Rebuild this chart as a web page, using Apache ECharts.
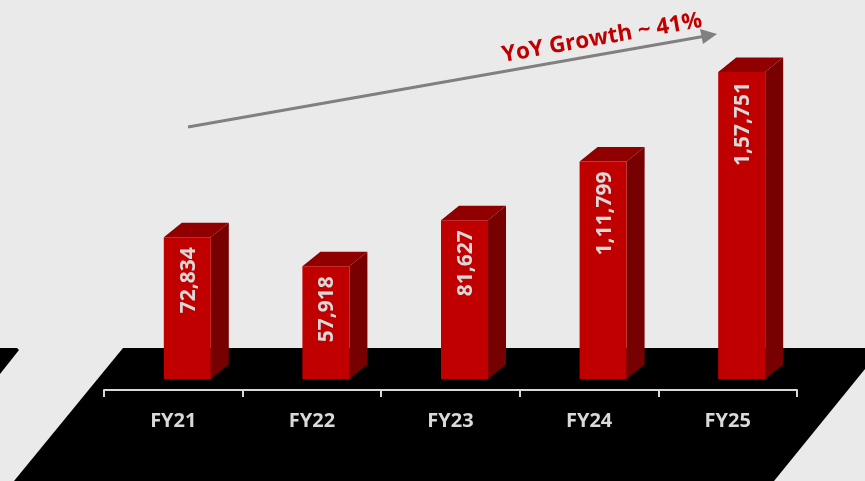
<!DOCTYPE html>
<html lang="en">

<head>
    <meta charset="UTF-8">
    <title>YoY Growth</title>
    <script src="https://cdn.jsdelivr.net/npm/echarts/dist/echarts.min.js"></script>
    <style>
        html, body {
            margin: 0;
            padding: 0;
            background-color: #eaeaea;
        }

        #chart {
            width: 865px;
            height: 481px;
        }
    </style>
</head>

<body>
    <div id="chart"></div>

    <script>
        const categories = ['FY21', 'FY22', 'FY23', 'FY24', 'FY25'];
        const values = [72834, 57918, 81627, 111799, 157751];
        const valueLabels = ['72,834', '57,918', '81,627', '1,11,799', '1,57,751'];

        const fontName = '"Open Sans", sans-serif';

        // one fake 3D column: side face, top face, front face, rotated label
        function renderColumn(params, api) {
            const i = api.value(0);
            const top = api.coord([i, api.value(1)]);
            const base = api.coord([i, 0]);
            const left = top[0] - 9.5;
            const right = left + 47;
            const dx = 18;
            const dy = 14.5;
            return {
                type: 'group',
                children: [
                    {
                        type: 'polygon',
                        shape: { points: [[right, top[1]], [right + dx, top[1] - dy], [right + dx, base[1] - dy], [right, base[1]]] },
                        style: { fill: '#770000' }
                    },
                    {
                        type: 'polygon',
                        shape: { points: [[left, top[1]], [left + dx, top[1] - dy], [right + dx, top[1] - dy], [right, top[1]]] },
                        style: { fill: '#900000' }
                    },
                    {
                        type: 'rect',
                        shape: { x: left, y: top[1], width: 47, height: base[1] - top[1] },
                        style: { fill: '#c00000' }
                    },
                    {
                        type: 'text',
                        x: left + 25,
                        y: top[1] + 10,
                        rotation: Math.PI / 2,
                        style: {
                            text: valueLabels[i],
                            fill: '#d9d9d9',
                            font: 'bold 21px ' + fontName,
                            align: 'right',
                            verticalAlign: 'middle'
                        }
                    }
                ]
            };
        }

        const chart = echarts.init(document.getElementById('chart'));
        chart.setOption({
            backgroundColor: '#eaeaea',
            animation: false,
            grid: { left: 104, right: 68, top: 72, bottom: 91 },
            xAxis: {
                type: 'category',
                data: categories,
                axisLine: { onZero: false, lineStyle: { color: '#d9d9d9', width: 2 } },
                axisTick: { show: true, length: 7, lineStyle: { color: '#d9d9d9', width: 2 } },
                axisLabel: { color: '#d9d9d9', fontFamily: fontName, fontWeight: 'bold', fontSize: 20, margin: 21 }
            },
            yAxis: {
                type: 'value',
                min: -5650,
                max: 157751,
                show: false,
                splitLine: { show: false }
            },
            graphic: [
                {
                    type: 'polygon',
                    z: -10,
                    shape: { points: [[123, 348], [865, 348], [865, 369], [774, 481], [14, 481]] },
                    style: { fill: '#000000' }
                },
                {
                    type: 'polygon',
                    z: -10,
                    shape: { points: [[0, 348], [17, 348], [19, 350], [0, 374]] },
                    style: { fill: '#000000' }
                },
                {
                    type: 'line',
                    z: 5,
                    shape: { x1: 188, y1: 127, x2: 703, y2: 36.5 },
                    style: { stroke: '#808080', lineWidth: 3 }
                },
                {
                    type: 'polygon',
                    z: 5,
                    shape: { points: [[717, 34], [700, 29], [703, 44]] },
                    style: { fill: '#808080' }
                },
                {
                    type: 'text',
                    z: 5,
                    x: 602,
                    y: 38,
                    rotation: 10 * Math.PI / 180,
                    style: {
                        text: 'YoY Growth ~ 41%',
                        fill: '#c00000',
                        font: 'bold 22.5px ' + fontName,
                        align: 'center',
                        verticalAlign: 'middle'
                    }
                }
            ],
            series: [{
                type: 'custom',
                renderItem: renderColumn,
                clip: false,
                data: values.map((v, i) => [i, v]),
                encode: { x: 0, y: 1 }
            }]
        });
    </script>
</body>

</html>
